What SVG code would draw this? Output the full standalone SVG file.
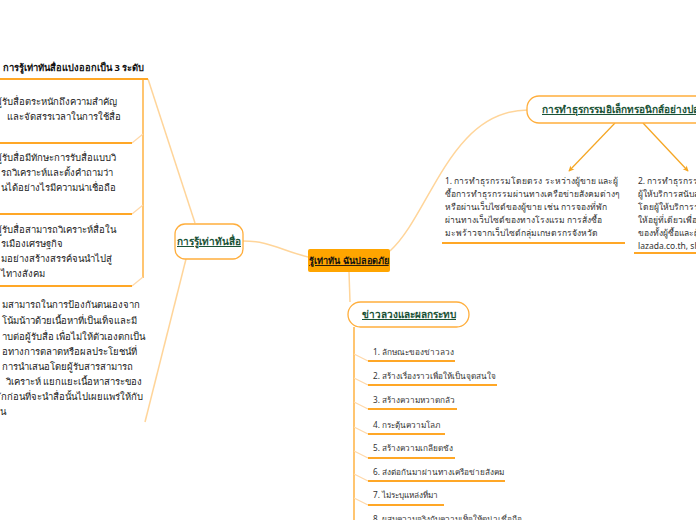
<svg xmlns="http://www.w3.org/2000/svg" width="696" height="520" viewBox="0 0 696 520">
<defs>
<marker id="ah" viewBox="0 0 10 10" refX="8" refY="5" markerWidth="7" markerHeight="7" orient="auto-start-reverse" markerUnits="userSpaceOnUse">
<path d="M1,1 L9,5 L1,9 L3,5 Z" fill="#F5A623"/>
</marker>
</defs>
<style>
text{font-family:"Noto Sans","DejaVu Sans","Liberation Sans",sans-serif;fill:#222;}
.t{font-size:9.5px;}
.s{font-size:8.5px;fill:#333;}
.f{font-size:8.2px;fill:#333;}
.hd{font-size:9.4px;font-weight:bold;fill:#111;}
.nt{font-size:10px;fill:#1a5236;text-decoration:underline;font-weight:bold;}
.ct{font-size:9.1px;fill:#111;text-decoration:underline;font-weight:bold;}
.ul{stroke:#FFA726;stroke-width:2;fill:none;}
.trunk{stroke:#FFB74D;stroke-width:1.6;fill:none;}
.br{stroke:#FFD8A8;stroke-width:1.2;fill:none;}
.con{stroke:#FFD59A;stroke-width:1.5;fill:none;}
.node{fill:#fff;stroke:#FFAE3C;stroke-width:1.3;}
.arr{stroke:#F5A623;stroke-width:1.2;fill:none;}
</style>
<rect width="696" height="520" fill="#fff"/>

<g id="connectors">
<path class="con" d="M308,257 C280,250 270,241 243,241"/>
<path class="con" d="M390,251 C430,215 450,110 528,110"/>
<path class="con" d="M349,272 L350,302"/>
<path class="con" d="M195,223 L148,79"/>
<path class="con" d="M186,259 L145,422"/>
<path class="trunk" d="M143,79 L143,278"/>
<path class="br" d="M143,134 L132,143"/>
<path class="br" d="M143,205 L132,214"/>
<path class="br" d="M143,277 L132,286"/>
<path class="trunk" d="M354,327 L354,520"/>
<path class="br" d="M354,354 L368,361"/>
<path class="br" d="M354,378 L368,385"/>
<path class="br" d="M354,402 L368,409"/>
<path class="br" d="M354,427 L368,434"/>
<path class="br" d="M354,451 L368,458"/>
<path class="br" d="M354,474 L368,481"/>
<path class="br" d="M354,498 L368,505"/>
<path class="arr" d="M615,123 L569,171" marker-end="url(#ah)"/>
<path class="arr" d="M643,123 L688,171" marker-end="url(#ah)"/>
</g>

<g id="central">
<rect x="308" y="249" width="82" height="23" rx="2" fill="#FFA500"/>
<text class="ct" x="349" y="264" text-anchor="middle">รู้เท่าทัน ฉันปลอดภัย</text>
</g>

<g id="node-media">
<rect class="node" x="175" y="224" width="68" height="35" rx="10"/>
<text class="nt" x="209" y="245" text-anchor="middle">การรู้เท่าทันสื่อ</text>
</g>

<g id="header-levels">
<text class="hd" x="3" y="71">การรู้เท่าทันสื่อแบ่งออกเป็น 3 ระดับ</text>
<path class="ul" d="M0,79 L148,79"/>
</g>

<g id="level-1">
<text class="t" x="-4" y="105">ผู้รับสื่อตระหนักถึงความสำคัญ</text>
<text class="t" x="7" y="120">และจัดสรรเวลาในการใช้สื่อ</text>
<path class="ul" d="M0,143 L132,143"/>
</g>

<g id="level-2">
<text class="t" x="-4" y="161">ผู้รับสื่อมีทักษะการรับสื่อแบบวิ</text>
<text class="t" x="1" y="176">รถวิเคราะห์และตั้งคำถามว่า</text>
<text class="t" x="1" y="191">นได้อย่างไรมีความน่าเชื่อถือ</text>
<path class="ul" d="M0,214 L132,214"/>
</g>

<g id="level-3">
<text class="t" x="-4" y="233">ผู้รับสื่อสามารถวิเคราะห์สื่อใน</text>
<text class="t" x="1" y="247">รเมืองเศรษฐกิจ</text>
<text class="t" x="1" y="262">มอย่างสร้างสรรค์จนนำไปสู่</text>
<text class="t" x="1" y="277">ไทางสังคม</text>
<path class="ul" d="M0,286 L132,286"/>
</g>

<g id="level-4">
<text class="t" x="2" y="308">มสามารถในการป้องกันตนเองจาก</text>
<text class="t" x="2" y="324">โน้มน้าวด้วยเนื้อหาที่เป็นเท็จและมี</text>
<text class="t" x="2" y="340">าบต่อผู้รับสื่อ เพื่อไม่ให้ตัวเองตกเป็น</text>
<text class="t" x="2" y="355">อทางการตลาดหรือผลประโยชน์ที่</text>
<text class="t" x="2" y="370">การนำเสนอโดยผู้รับสารสามารถ</text>
<text class="t" x="6" y="385">วิเคราะห์ แยกแยะเนื้อหาสาระของ</text>
<text class="t" x="1" y="400">ักก่อนที่จะนำสื่อนั้นไปเผยแพร่ให้กับ</text>
<text class="t" x="0" y="415">น</text>
</g>

<g id="node-transaction">
<rect class="node" x="527" y="96" width="200" height="27" rx="12"/>
<text class="nt" x="542" y="113">การทำธุรกรรมอิเล็กทรอนิกส์อย่างปลอดภัย</text>
</g>

<g id="trans-1">
<text class="s" x="445" y="184">1. การทำธุรกรรมโดยตรง ระหว่างผู้ขาย และผู้</text>
<text class="s" x="445" y="197">ซื้อการทำธุรกรรมผ่านทางเครือข่ายสังคมต่างๆ</text>
<text class="s" x="445" y="210">หรือผ่านเว็บไซต์ของผู้ขาย เช่น การจองที่พัก</text>
<text class="s" x="445" y="223">ผ่านทางเว็บไซต์ของทางโรงแรม การสั่งซื้อ</text>
<text class="s" x="445" y="236">มะพร้าวจากเว็บไซต์กลุ่มเกษตรกรจังหวัด</text>
<path class="ul" d="M442,243 L625,243"/>
</g>

<g id="trans-2">
<text class="s" x="638" y="184">2. การทำธุรกรรม</text>
<text class="s" x="638" y="197">ผู้ให้บริการสนับสนุน</text>
<text class="s" x="638" y="210">โดยผู้ให้บริการรวม</text>
<text class="s" x="638" y="223">ให้อยู่ที่เดียวเพื่อให้</text>
<text class="s" x="638" y="236">ของทั้งผู้ซื้อและผู้ขาย</text>
<text class="s" x="638" y="249">lazada.co.th, shopee</text>
<path class="ul" d="M634,253 L696,253"/>
</g>

<g id="node-fake">
<rect class="node" x="348" y="302" width="121" height="25" rx="12.5"/>
<text class="nt" x="409" y="318" text-anchor="middle">ข่าวลวงและผลกระทบ</text>
</g>

<g id="fake-1"><text class="f" x="373" y="355">1. ลักษณะของข่าวลวง</text><path class="ul" d="M368,361 L455,361"/></g>
<g id="fake-2"><text class="f" x="373" y="379">2. สร้างเรื่องราวเพื่อให้เป็นจุดสนใจ</text><path class="ul" d="M368,385 L497,385"/></g>
<g id="fake-3"><text class="f" x="373" y="403">3. สร้างความหวาดกลัว</text><path class="ul" d="M368,409 L457,409"/></g>
<g id="fake-4"><text class="f" x="373" y="428">4. กระตุ้นความโลภ</text><path class="ul" d="M368,434 L445,434"/></g>
<g id="fake-5"><text class="f" x="373" y="451">5. สร้างความเกลียดชัง</text><path class="ul" d="M368,458 L455,458"/></g>
<g id="fake-6"><text class="f" x="373" y="475">6. ส่งต่อกันมาผ่านทางเครือข่ายสังคม</text><path class="ul" d="M368,481 L505,481"/></g>
<g id="fake-7"><text class="f" x="373" y="498">7. ไม่ระบุแหล่งที่มา</text><path class="ul" d="M368,505 L444,505"/></g>
<g id="fake-8"><text class="f" x="373" y="522">8. ผสมความจริงกับความเท็จให้ดูน่าเชื่อถือ</text></g>
</svg>
